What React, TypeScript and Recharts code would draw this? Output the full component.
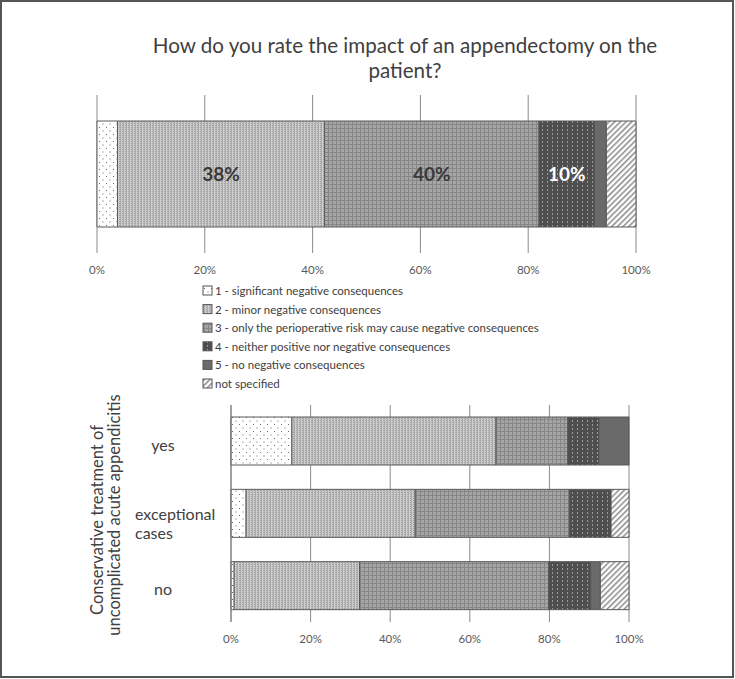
import React from 'react';
import { BarChart, Bar, XAxis, YAxis, CartesianGrid, LabelList } from 'recharts';

const FONT = 'Lato, "Open Sans", sans-serif';

// series (answer options)
const seriesKeys = ['s1', 's2', 's3', 's4', 's5', 's6'];
const seriesNames = [
  '1 - significant negative consequences',
  '2 - minor negative consequences',
  '3 - only the perioperative risk may cause negative consequences',
  '4 - neither positive nor negative consequences',
  '5 - no negative consequences',
  'not specified',
];

// top chart: all respondents, % per answer
const topValues = [3.8, 38.4, 39.8, 10.3, 2.2, 5.5];
const topLabelKeys = ['s2', 's3', 's4'];

// bottom chart: split by attitude to conservative treatment
const categories = ['yes', 'exceptional\ncases', 'no'];
const sigNeg = [15.3, 3.8, 0.8];
const minorNeg = [51.3, 42.5, 31.5];
const periop = [18.0, 38.7, 47.5];
const neither = [7.9, 10.5, 10.6];
const noNeg = [7.5, 0, 2.4];
const notSpec = [0, 4.5, 7.2];

const xTicks = [0, 20, 40, 60, 80, 100];

const fills = ['url(#pat1)', 'url(#pat2)', 'url(#pat3)', 'url(#pat4)', '#6a6a6a', 'url(#pat6)'];
const labelColors: Record<string, string> = { s2: '#3a3a3a', s3: '#3a3a3a', s4: '#ffffff' };

const topData = [
  seriesKeys.reduce((row: any, k, i) => ({ ...row, [k]: topValues[i] }), { name: 'all' }),
];

const bottomSeries = [sigNeg, minorNeg, periop, neither, noNeg, notSpec];
const bottomData = categories.map((cat, ci) =>
  seriesKeys.reduce((row: any, k, si) => ({ ...row, [k]: bottomSeries[si][ci] }), { cat })
);

function Patterns() {
  return (
    <svg width={0} height={0} style={{ position: 'absolute' }}>
      <defs>
        <pattern id="pat1" width={7} height={7} patternUnits="userSpaceOnUse">
          <rect width={7} height={7} fill="#ffffff" />
          <rect x={1} y={1} width={1} height={1} fill="#6a6a6a" />
          <rect x={4.5} y={4.5} width={1} height={1} fill="#6a6a6a" />
        </pattern>
        <pattern id="pat2" width={3} height={2} patternUnits="userSpaceOnUse">
          <rect width={3} height={2} fill="#cdcdcd" />
          <rect x={0} y={0} width={1} height={2} fill="#ababab" />
          <rect x={2} y={1} width={1} height={1} fill="#a0a0a0" />
        </pattern>
        <pattern id="pat3" width={4} height={4} patternUnits="userSpaceOnUse">
          <rect width={4} height={4} fill="#a5a5a5" />
          <rect x={0} y={0} width={1} height={4} fill="#878787" />
          <rect x={0} y={0} width={4} height={1} fill="#878787" />
        </pattern>
        <pattern id="pat4" width={5} height={4} patternUnits="userSpaceOnUse">
          <rect width={5} height={4} fill="#4e4e4e" />
          <rect x={2} y={1} width={1} height={2} fill="#9a9a9a" />
        </pattern>
        <pattern id="pat6" width={4} height={4} patternUnits="userSpaceOnUse" patternTransform="rotate(45)">
          <rect width={4} height={4} fill="#ffffff" />
          <rect x={0} y={0} width={1.5} height={4} fill="#8a8a8a" />
        </pattern>
      </defs>
    </svg>
  );
}

function CategoryTick(props: any) {
  const { x, y, payload } = props;
  const lines = String(payload.value).split('\n');
  if (lines.length === 1) {
    return (
      <text x={x - 68} y={y + 3} textAnchor="middle" dominantBaseline="central" fontSize={16} fill="#404040" fontFamily={FONT}>
        {lines[0]}
      </text>
    );
  }
  return (
    <text x={x - 96} y={y} textAnchor="start" fontSize={16} fill="#404040" fontFamily={FONT}>
      {lines.map((l, i) => (
        <tspan key={i} x={x - 96} y={y + i * 19} dominantBaseline="central">
          {l}
        </tspan>
      ))}
    </text>
  );
}

const tickStyle = { fontSize: 11.5, fill: '#595959', fontFamily: FONT };

export default function App() {
  return (
    <div style={{ position: 'absolute', left: 0, top: 0, width: 735, height: 679, background: '#fff', fontFamily: FONT }}>
      <Patterns />
      <div
        style={{
          position: 'absolute', left: 0, top: 0, width: 734, height: 678,
          border: '2px solid #555', boxSizing: 'border-box',
        }}
      />
      <div style={{ position: 'absolute', left: 0, top: 0 }}>
        <BarChart width={735} height={290} data={topData} layout="vertical"
          margin={{ top: 95, right: 99, left: 97, bottom: 7 }}>
          <CartesianGrid horizontal={false} stroke="#8a8a8a" />
          <XAxis type="number" domain={[0, 100]} ticks={xTicks} tickFormatter={(v) => `${v}%`}
            axisLine={false} tickLine={false} tickMargin={7} height={30} tick={tickStyle} />
          <YAxis type="category" dataKey="name" hide />
          {seriesKeys.map((k, i) => (
            <Bar key={k} dataKey={k} stackId="a" fill={fills[i]} stroke="#595959" strokeWidth={1}
              barSize={106} isAnimationActive={false}>
              {topLabelKeys.includes(k) && (
                <LabelList dataKey={k} position="center" formatter={(v: any) => `${Math.round(Number(v))}%`}
                  fill={labelColors[k]} fontSize={19} fontWeight="bold" fontFamily={FONT} />
              )}
            </Bar>
          ))}
        </BarChart>
      </div>
      <div style={{ position: 'absolute', left: 0, top: 395 }}>
        <BarChart width={735} height={284} data={bottomData} layout="vertical"
          margin={{ top: 10, right: 106, left: 0, bottom: 27 }}>
          <CartesianGrid horizontal={false} stroke="#8a8a8a" />
          <XAxis type="number" domain={[0, 100]} ticks={xTicks} tickFormatter={(v) => `${v}%`}
            axisLine={false} tickLine={false} tickMargin={7} height={30} tick={tickStyle} />
          <YAxis type="category" dataKey="cat" width={231} axisLine={{ stroke: '#7a7a7a' }}
            tickLine={false} tickSize={0} tickMargin={0} tick={<CategoryTick />} />
          {seriesKeys.map((k, i) => (
            <Bar key={k} dataKey={k} stackId="b" fill={fills[i]} stroke="#595959" strokeWidth={1}
              barSize={48} isAnimationActive={false} />
          ))}
        </BarChart>
      </div>
      <svg width={735} height={679} style={{ position: 'absolute', left: 0, top: 0, pointerEvents: 'none' }}>
        <text x={405} y={45} textAnchor="middle" dominantBaseline="central" fontSize={20.6} fill="#404040" fontFamily={FONT}>
          How do you rate the impact of an appendectomy on the
        </text>
        <text x={405} y={70} textAnchor="middle" dominantBaseline="central" fontSize={20.6} fill="#404040" fontFamily={FONT}>
          patient?
        </text>
        {seriesNames.map((n, i) => (
          <g key={n}>
            <rect x={203} y={286 + i * 18.6} width={9} height={9} fill={fills[i]} stroke="#555" strokeWidth={1} />
            <text x={215} y={290.5 + i * 18.6} dominantBaseline="central" fontSize={11.5} fill="#404040" fontFamily={FONT}>
              {n}
            </text>
          </g>
        ))}
        <text transform="rotate(-90 97 520)" x={97} y={520} textAnchor="middle" dominantBaseline="central"
          fontSize={16.5} fill="#404040" fontFamily={FONT}>
          Conservative treatment of
        </text>
        <text transform="rotate(-90 114 515)" x={114} y={515} textAnchor="middle" dominantBaseline="central"
          fontSize={16.5} fill="#404040" fontFamily={FONT}>
          uncomplicated acute appendicitis
        </text>
      </svg>
    </div>
  );
}
